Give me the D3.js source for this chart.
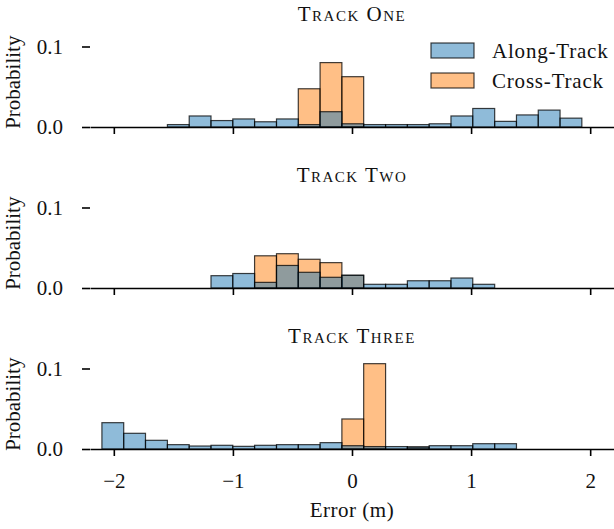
<!DOCTYPE html>
<html>
<head>
<meta charset="utf-8">
<script src="https://cdn.jsdelivr.net/npm/d3@7"></script>
<style>
  body { margin: 0; background: #fff; }
  text { font-family: "Liberation Serif", "DejaVu Serif", serif; fill: #111; }
</style>
</head>
<body>
<div id="chart"></div>
<script>
// histogram bin edges (m), shared by every panel
const binEdges = [-2.100, -1.917, -1.734, -1.550, -1.367, -1.184, -1.001, -0.818, -0.634, -0.451,
    -0.268, -0.085, 0.098, 0.282, 0.465, 0.648, 0.831, 1.014, 1.198, 1.381, 1.564, 1.747, 1.930];

const panelTitles = ["Track One", "Track Two", "Track Three"];
const seriesNames = ["Along-Track", "Cross-Track"];
const xTicks = [-2, -1, 0, 1, 2];
const yTicks = [0, 0.1];

// probability per bin, one value per bin above
const trackOneAlong = [0, 0, 0, 0.003, 0.0137, 0.008, 0.0100, 0.0065, 0.0100, 0.003, 0.019, 0.004,
    0.003, 0.003, 0.003, 0.004, 0.0137, 0.023, 0.007, 0.015, 0.021, 0.011];
const trackOneCross = [0, 0, 0, 0, 0, 0, 0, 0, 0, 0.0475, 0.080, 0.0625,
    0, 0, 0, 0, 0, 0, 0, 0, 0, 0];

const trackTwoAlong = [0, 0, 0, 0, 0, 0.0153, 0.018, 0.007, 0.028, 0.0195, 0.0133, 0.0158,
    0.0046, 0.0046, 0.009, 0.009, 0.0124, 0.0046, 0, 0, 0, 0];
const trackTwoCross = [0, 0, 0, 0, 0, 0, 0, 0.040, 0.0426, 0.0357, 0.0315, 0.0158,
    0, 0, 0, 0, 0, 0, 0, 0, 0, 0];

const trackThreeAlong = [0.0327, 0.0195, 0.0108, 0.0054, 0.0037, 0.0046, 0.0033, 0.0046, 0.0054, 0.0054, 0.0079, 0.0041,
    0.003, 0.003, 0.0025, 0.0041, 0.0041, 0.0066, 0.0066, 0, 0, 0];
const trackThreeCross = [0, 0, 0, 0, 0, 0, 0, 0, 0, 0, 0, 0.0373,
    0.106, 0, 0.0025, 0, 0, 0, 0, 0, 0, 0];

const alongSeries = [trackOneAlong, trackTwoAlong, trackThreeAlong];
const crossSeries = [trackOneCross, trackTwoCross, trackThreeCross];

const colors = ["#1f77b4", "#ff7f0e"];

const width = 614;
const height = 529;
const axLeft = 90;
const panelBase = [127, 288, 449];   // y of the zero line in each panel
const panelHeight = 89.6;
const yMax = 0.1113;

const svg = d3.select("#chart")
    .append("svg")
    .attr("width", width)
    .attr("height", height);

const x = d3.scaleLinear()
    .domain([-2.2, 2.2])
    .range([axLeft, width]);

const y = d3.scaleLinear()
    .domain([0, yMax])
    .range([panelHeight, 0]);

const fmtTick = d => d3.format("d")(d).replace("-", "\u2212");

panelTitles.forEach((title, i) => {
    const g = svg.append("g")
        .attr("transform", `translate(0,${panelBase[i] - panelHeight})`);

    // cross first, along on top so the overlap turns grey
    [crossSeries[i], alongSeries[i]].forEach((vals, s) => {
        const bins = vals.map((v, j) => ({ x0: binEdges[j], x1: binEdges[j + 1], v: v }))
            .filter(d => d.v > 0);
        g.selectAll(null)
            .data(bins)
            .enter()
            .append("rect")
            .attr("x", d => x(d.x0))
            .attr("y", d => y(d.v))
            .attr("width", d => x(d.x1) - x(d.x0))
            .attr("height", d => y(0) - y(d.v))
            .attr("fill", colors[1 - s])
            .attr("fill-opacity", 0.5)
            .attr("stroke", "#000")
            .attr("stroke-opacity", 0.75)
            .attr("stroke-width", 1.2);
    });

    // x axis
    const xAxis = g.append("g")
        .attr("transform", `translate(0,${panelHeight})`)
        .call(d3.axisBottom(x)
            .tickValues(xTicks)
            .tickSize(7)
            .tickSizeOuter(0)
            .tickPadding(17)
            .tickFormat(i === 2 ? fmtTick : ""));
    xAxis.select(".domain").attr("stroke", "#000").attr("stroke-width", 1.6);
    xAxis.selectAll(".tick line").attr("stroke", "#000").attr("stroke-width", 1.6);
    xAxis.selectAll("text").style("font-size", "21px").attr("fill", "#111");

    // y axis, no spine
    const yAxis = g.append("g")
        .attr("transform", `translate(${axLeft},0)`)
        .call(d3.axisLeft(y)
            .tickValues(yTicks)
            .tickSize(8)
            .tickPadding(19)
            .tickFormat(d3.format(".1f")));
    yAxis.select(".domain").remove();
    yAxis.selectAll(".tick line").attr("stroke", "#000").attr("stroke-width", 1.6);
    yAxis.selectAll("text").style("font-size", "21px").attr("fill", "#111");

    g.append("text")
        .attr("transform", `translate(20,${panelHeight / 2}) rotate(-90)`)
        .attr("text-anchor", "middle")
        .style("font-size", "21px")
        .text("Probability");

    svg.append("text")
        .attr("x", (axLeft + width) / 2)
        .attr("y", panelBase[i] - panelHeight - 16)
        .attr("text-anchor", "middle")
        .style("font-size", "21px")
        .style("font-variant", "small-caps")
        .style("letter-spacing", "1.5px")
        .text(title);
});

svg.append("text")
    .attr("x", x(0))
    .attr("y", 517)
    .attr("text-anchor", "middle")
    .style("font-size", "21px")
    .style("letter-spacing", "0.5px")
    .text("Error (m)");

// legend
const legend = svg.append("g")
    .attr("transform", "translate(431,43)");

seriesNames.forEach((name, i) => {
    legend.append("rect")
        .attr("x", 0)
        .attr("y", i * 30)
        .attr("width", 43)
        .attr("height", 15)
        .attr("fill", colors[i])
        .attr("fill-opacity", 0.5)
        .attr("stroke", "#000")
        .attr("stroke-opacity", 0.75)
        .attr("stroke-width", 1.2);
    legend.append("text")
        .attr("x", 61)
        .attr("y", i * 30 + 7.5)
        .attr("dy", "0.35em")
        .style("font-size", "21px")
        .style("letter-spacing", "0.8px")
        .text(name);
});
</script>
</body>
</html>
